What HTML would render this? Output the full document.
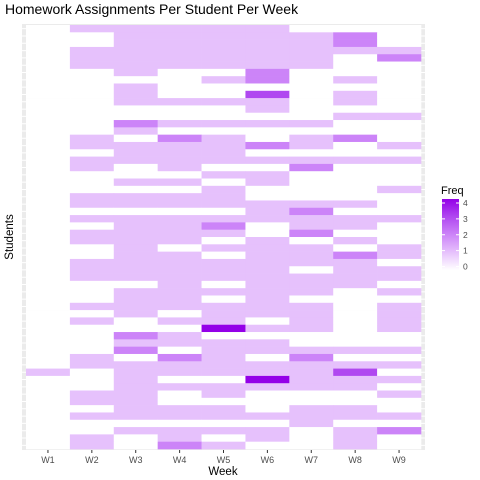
<!DOCTYPE html>
<html><head><meta charset="utf-8"><style>
html,body{margin:0;padding:0;background:#fff;}
svg{display:block;font-family:"Liberation Sans",sans-serif;}
</style></head><body>
<svg id="chart" width="480" height="480" viewBox="0 0 480 480">
<defs><linearGradient id="lg" x1="0" y1="1" x2="0" y2="0">
<stop offset="0" stop-color="#ffffff"/><stop offset="0.25" stop-color="#e6c1fc"/><stop offset="0.5" stop-color="#cc84f8"/><stop offset="0.75" stop-color="#b048f0"/><stop offset="1" stop-color="#9400e8"/></linearGradient></defs>
<text x="5" y="14" font-size="14" fill="#000">Homework Assignments Per Student Per Week</text>
<rect x="22" y="24" width="403" height="426" fill="#ebebeb"/>
<g id="grid"></g>
<g id="tiles"></g>
<g id="xaxis"></g>
<text x="223" y="475" font-size="11.5" text-anchor="middle" fill="#000">Week</text>
<text transform="translate(13,237) rotate(-90)" font-size="11.5" text-anchor="middle" fill="#000">Students</text>
<g>
<text x="441" y="194" font-size="11" fill="#000">Freq</text>
<rect x="442" y="199" width="17" height="71" fill="url(#lg)"/>
<g id="legend-ticks"></g>
</g>
</svg>
<script>
const weeks = ["W1","W2","W3","W4","W5","W6","W7","W8","W9"];
const legendTicks = [0,1,2,3,4];
const freq = [
[0,1,1,1,1,1,0,0,0],
[0,0,1,1,1,1,1,2,0],
[0,0,1,1,1,1,1,2,0],
[0,1,1,1,1,1,1,1,1],
[0,1,1,1,1,1,1,0,2],
[0,1,1,1,1,1,1,0,0],
[0,0,1,0,0,2,0,0,0],
[0,0,0,0,1,2,0,1,0],
[0,0,1,0,0,0,0,0,0],
[0,0,1,0,0,3,0,1,0],
[0,0,1,1,1,1,0,1,0],
[0,0,0,0,0,1,0,0,0],
[0,0,0,0,0,0,0,1,1],
[0,0,2,1,1,1,1,0,0],
[0,0,1,0,0,0,0,0,0],
[0,1,0,2,1,0,1,2,0],
[0,1,1,1,1,2,1,0,1],
[0,0,1,1,1,0,0,0,0],
[0,1,1,1,1,1,1,1,1],
[0,1,0,1,0,0,2,0,0],
[0,0,0,0,1,1,0,0,0],
[0,0,1,1,0,1,0,0,0],
[0,0,0,0,1,0,0,0,1],
[0,1,1,1,1,0,0,0,0],
[0,1,1,1,1,1,1,1,0],
[0,0,0,0,0,1,2,0,0],
[0,1,1,1,1,1,1,1,1],
[0,0,1,1,2,0,1,1,0],
[0,1,1,1,1,0,2,0,0],
[0,1,1,1,0,1,0,1,0],
[0,0,1,0,1,1,1,0,1],
[0,0,1,1,0,1,1,2,1],
[0,1,1,1,1,1,1,1,0],
[0,1,1,1,1,1,0,1,1],
[0,1,1,1,1,1,1,1,1],
[0,0,0,1,0,1,1,1,0],
[0,0,1,1,1,1,1,0,1],
[0,0,1,1,0,1,0,0,0],
[0,1,1,1,1,1,1,0,1],
[0,0,1,0,1,1,1,0,1],
[0,1,0,1,1,0,1,0,1],
[0,0,0,0,4,1,1,0,1],
[0,0,2,1,0,0,0,0,0],
[0,0,1,1,1,1,0,0,0],
[0,0,2,0,1,1,1,1,1],
[0,1,0,2,1,0,2,0,0],
[0,1,1,1,1,1,1,1,1],
[1,0,1,1,1,1,1,3,0],
[0,0,1,0,0,4,1,1,1],
[0,0,1,1,1,1,1,1,0],
[0,1,1,0,1,0,0,0,1],
[0,1,1,0,0,0,0,0,0],
[0,0,1,1,1,0,1,1,0],
[0,1,1,1,1,1,1,1,1],
[0,0,0,0,0,0,1,0,0],
[0,0,1,1,1,1,0,1,2],
[0,1,0,1,0,1,0,1,0],
[0,1,0,2,1,0,0,1,0]
];
const NS="http://www.w3.org/2000/svg";
const x0=26,x1=421,y0=25,y1=449;
const cw=(x1-x0)/weeks.length, rh=(y1-y0)/freq.length;
const xPos=i=>x0+i*cw;
const yPos=r=>y0+r*rh;
const colors=["#ffffff","#e6c1fc","#cc84f8","#b048f0","#9400e8"];
const color=v=>colors[Math.max(0,Math.min(4,v))];
const grid=document.getElementById('grid');
for(let r=0;r<freq.length;r++){
  const l=document.createElementNS(NS,'line');
  l.setAttribute('x1',22);l.setAttribute('x2',425);
  l.setAttribute('y1',yPos(r)+rh/2);l.setAttribute('y2',yPos(r)+rh/2);
  l.setAttribute('stroke','#fff');l.setAttribute('stroke-width','1');
  
  
  grid.appendChild(l);
}
const tiles=document.getElementById('tiles');
freq.forEach((row,r)=>row.forEach((v,c)=>{
  const t=document.createElementNS(NS,'rect');
  t.setAttribute('x',xPos(c));t.setAttribute('y',yPos(r));
  t.setAttribute('width',cw+0.3);t.setAttribute('height',rh+0.3);
  t.setAttribute('fill',color(v));
  
  
  tiles.appendChild(t);
}));
const xa=document.getElementById('xaxis');
weeks.forEach((w,i)=>{
  const cx=xPos(i)+cw/2;
  const tk=document.createElementNS(NS,'line');
  tk.setAttribute('x1',cx);tk.setAttribute('x2',cx);tk.setAttribute('y1',450);tk.setAttribute('y2',453);
  tk.setAttribute('stroke','#333');
  
  
  xa.appendChild(tk);
  const tx=document.createElementNS(NS,'text');
  tx.setAttribute('x',cx);tx.setAttribute('y',463);tx.setAttribute('text-anchor','middle');
  tx.setAttribute('font-size','9');tx.setAttribute('fill','#4d4d4d');
  tx.textContent=w;
  
  
  xa.appendChild(tx);
});
const lt=document.getElementById('legend-ticks');
const ly=v=>266.5-(v/4)*63.5;
legendTicks.forEach(v=>{
  [[442,445],[456,459]].forEach(p=>{
    const l=document.createElementNS(NS,'line');
    l.setAttribute('x1',p[0]);l.setAttribute('x2',p[1]);l.setAttribute('y1',ly(v));l.setAttribute('y2',ly(v));
    l.setAttribute('stroke','#fff');
    
    
    lt.appendChild(l);
  });
  const tx=document.createElementNS(NS,'text');
  tx.setAttribute('x',463);tx.setAttribute('y',ly(v)+3);
  tx.setAttribute('font-size','8.5');tx.setAttribute('fill','#4d4d4d');
  tx.textContent=v;
  
  
  lt.appendChild(tx);
});
</script>
</body></html>
